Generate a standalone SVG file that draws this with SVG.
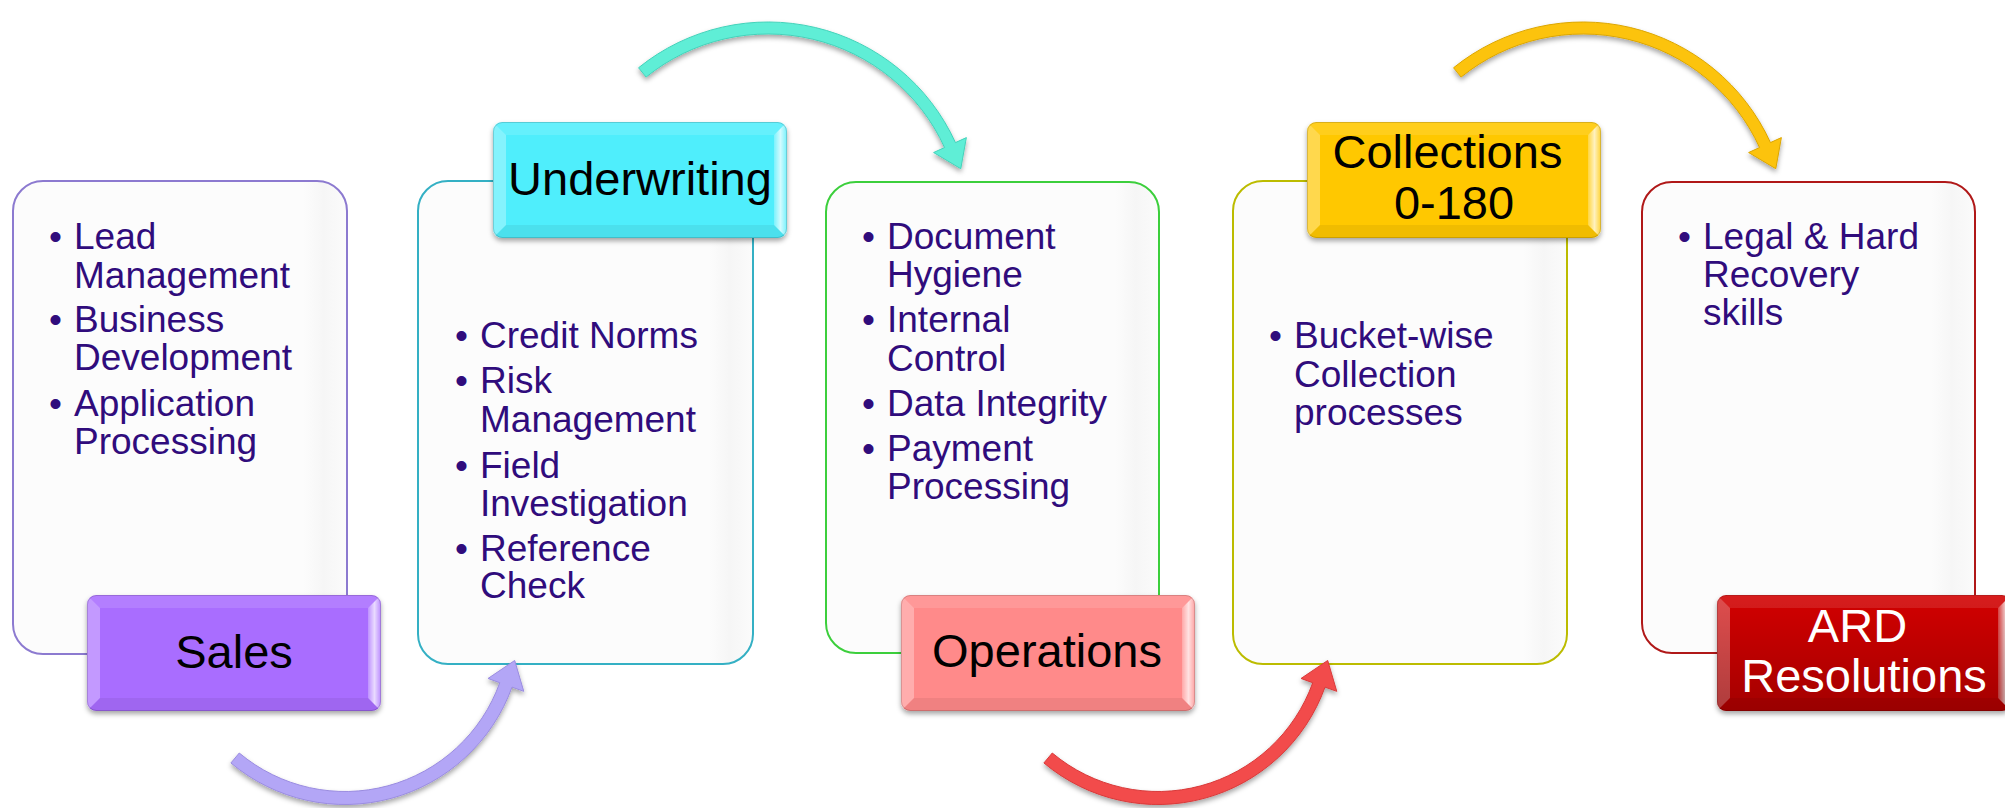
<svg xmlns="http://www.w3.org/2000/svg" xmlns:xlink="http://www.w3.org/1999/xlink" width="2005" height="808" viewBox="0 0 2005 808">
  <style>
    .panel { stroke-width: 2; fill: url(#panelFill); }
    .item { font-family: "Liberation Sans", Arial, sans-serif; font-size: 37px; fill: #300c7c; }
    .tagText { font-family: "Liberation Sans", Arial, sans-serif; font-size: 47px; fill: #000; text-anchor: middle; }
    .arrow { stroke-width: 1; filter: url(#shadow); }
  </style>
  <defs>
    <linearGradient id="panelFill" x1="0" y1="0" x2="1" y2="0">
      <stop offset="0" stop-color="#fcfcfc"/>
      <stop offset="0.87" stop-color="#fcfcfc"/>
      <stop offset="0.93" stop-color="#f6f6f6"/>
      <stop offset="1" stop-color="#fbfbfb"/>
    </linearGradient>
    <linearGradient id="ardShade" x1="0" y1="0" x2="0" y2="1">
      <stop offset="0" stop-color="#000" stop-opacity="0"/>
      <stop offset="1" stop-color="#000" stop-opacity="0.22"/>
    </linearGradient>
    <linearGradient id="edgeGlow" x1="0" y1="0" x2="1" y2="0">
      <stop offset="0" stop-color="#fff" stop-opacity="0.25"/>
      <stop offset="0.5" stop-color="#fff" stop-opacity="0.75"/>
      <stop offset="1" stop-color="#fff" stop-opacity="0.2"/>
    </linearGradient>
    <filter id="shadow" x="-10%" y="-10%" width="120%" height="130%">
      <feDropShadow dx="0" dy="3" stdDeviation="2.5" flood-color="#000" flood-opacity="0.35"/>
    </filter>
    <clipPath id="tagClip">
      <rect width="294" height="116" rx="9"/>
    </clipPath>
    <!-- bevelled title tag, coloured through currentColor -->
    <g id="tag">
      <g clip-path="url(#tagClip)">
        <rect width="294" height="116" fill="currentColor"/>
        <polygon points="0,0 294,0 281,13 13,13" fill="#fff" opacity="0.12"/>
        <polygon points="0,0 13,13 13,103 0,116" fill="#fff" opacity="0.3"/>
        <polygon points="294,0 281,13 281,103 294,116" fill="url(#edgeGlow)"/>
        <polygon points="0,116 13,103 281,103 294,116" fill="#000" opacity="0.06"/>
      </g>
      <rect x="0.5" y="0.5" width="293" height="115" rx="9" fill="none" stroke="#000" stroke-opacity="0.15"/>
    </g>
    <!-- curved arrow arching over the top -->
    <path id="arcOver" d="M 638.55 67.75 A 206 206 0 0 1 955.46 142.57 L 966.38 137.60 L 960.78 168.72 L 933.62 152.52 L 944.54 147.55 A 194 194 0 0 0 646.09 77.09 Z"/>
    <!-- curved arrow swinging underneath -->
    <path id="arcUnder" d="M 230.90 762.97 A 177.5 177.5 0 0 0 512.01 687.12 L 523.77 691.35 L 514.70 660.46 L 488.02 678.48 L 499.78 682.72 A 164.5 164.5 0 0 1 239.26 753.01 Z"/>
  </defs>

  <rect width="2005" height="808" fill="#fff"/>

  <g id="sales">
    <rect class="panel" x="13" y="181" width="334" height="473" rx="30" stroke="#8c7ad0"/>
    <text class="item">
      <tspan x="49" y="249">•</tspan><tspan x="74" y="249">Lead</tspan>
      <tspan x="74" y="288">Management</tspan>
      <tspan x="49" y="332">•</tspan><tspan x="74" y="332">Business</tspan>
      <tspan x="74" y="370">Development</tspan>
      <tspan x="49" y="416">•</tspan><tspan x="74" y="416">Application</tspan>
      <tspan x="74" y="454">Processing</tspan>
    </text>
    <use xlink:href="#tag" x="87" y="595" color="#a96dff" filter="url(#shadow)"/>
    <text class="tagText" x="234" y="668">Sales</text>
  </g>

  <g id="underwriting">
    <rect class="panel" x="418" y="181" width="335" height="483" rx="30" stroke="#34b0c4"/>
    <text class="item">
      <tspan x="455" y="348">•</tspan><tspan x="480" y="348">Credit Norms</tspan>
      <tspan x="455" y="393">•</tspan><tspan x="480" y="393">Risk</tspan>
      <tspan x="480" y="432">Management</tspan>
      <tspan x="455" y="478">•</tspan><tspan x="480" y="478">Field</tspan>
      <tspan x="480" y="516">Investigation</tspan>
      <tspan x="455" y="561">•</tspan><tspan x="480" y="561">Reference</tspan>
      <tspan x="480" y="598">Check</tspan>
    </text>
    <use xlink:href="#tag" x="493" y="122" color="#50eefc" filter="url(#shadow)"/>
    <text class="tagText" x="640" y="195">Underwriting</text>
  </g>

  <g id="operations">
    <rect class="panel" x="826" y="182" width="333" height="471" rx="30" stroke="#3ccf3c"/>
    <text class="item">
      <tspan x="862" y="249">•</tspan><tspan x="887" y="249">Document</tspan>
      <tspan x="887" y="287">Hygiene</tspan>
      <tspan x="862" y="332">•</tspan><tspan x="887" y="332">Internal</tspan>
      <tspan x="887" y="371">Control</tspan>
      <tspan x="862" y="416">•</tspan><tspan x="887" y="416">Data Integrity</tspan>
      <tspan x="862" y="461">•</tspan><tspan x="887" y="461">Payment</tspan>
      <tspan x="887" y="499">Processing</tspan>
    </text>
    <use xlink:href="#tag" x="901" y="595" color="#ff8a8a" filter="url(#shadow)"/>
    <text class="tagText" x="1047" y="667">Operations</text>
  </g>

  <g id="collections">
    <rect class="panel" x="1233" y="181" width="334" height="483" rx="30" stroke="#bcbc00"/>
    <text class="item">
      <tspan x="1269" y="348">•</tspan><tspan x="1294" y="348">Bucket-wise</tspan>
      <tspan x="1294" y="387">Collection</tspan>
      <tspan x="1294" y="425">processes</tspan>
    </text>
    <use xlink:href="#tag" x="1307" y="122" color="#ffc800" filter="url(#shadow)"/>
    <text class="tagText">
      <tspan x="1454" y="168">Collections</tspan>
      <tspan x="1454" y="219">0-180</tspan>
    </text>
  </g>

  <g id="ard-resolutions">
    <rect class="panel" x="1642" y="182" width="333" height="471" rx="30" stroke="#b01818"/>
    <text class="item">
      <tspan x="1678" y="249">•</tspan><tspan x="1703" y="249">Legal &amp; Hard</tspan>
      <tspan x="1703" y="287">Recovery</tspan>
      <tspan x="1703" y="325">skills</tspan>
    </text>
    <use xlink:href="#tag" x="1717" y="595" color="#d20000" filter="url(#shadow)"/>
    <rect x="1717" y="595" width="294" height="116" rx="9" fill="url(#ardShade)"/>
    <text class="tagText" style="fill:#fff">
      <tspan x="1864" y="642">ARD</tspan>
      <tspan x="1864" y="692">Resolutions</tspan>
    </text>
  </g>

  <g id="connectors">
    <use class="arrow" xlink:href="#arcUnder" fill="#b3a6f6" stroke="#9a8ce0"/>
    <use class="arrow" xlink:href="#arcOver" fill="#5eeed6" stroke="#44d2ba"/>
    <use class="arrow" xlink:href="#arcUnder" transform="translate(813 0)" fill="#f24b4b" stroke="#d83a3a"/>
    <use class="arrow" xlink:href="#arcOver" transform="translate(815 0)" fill="#fcc30f" stroke="#dca600"/>
  </g>
</svg>
